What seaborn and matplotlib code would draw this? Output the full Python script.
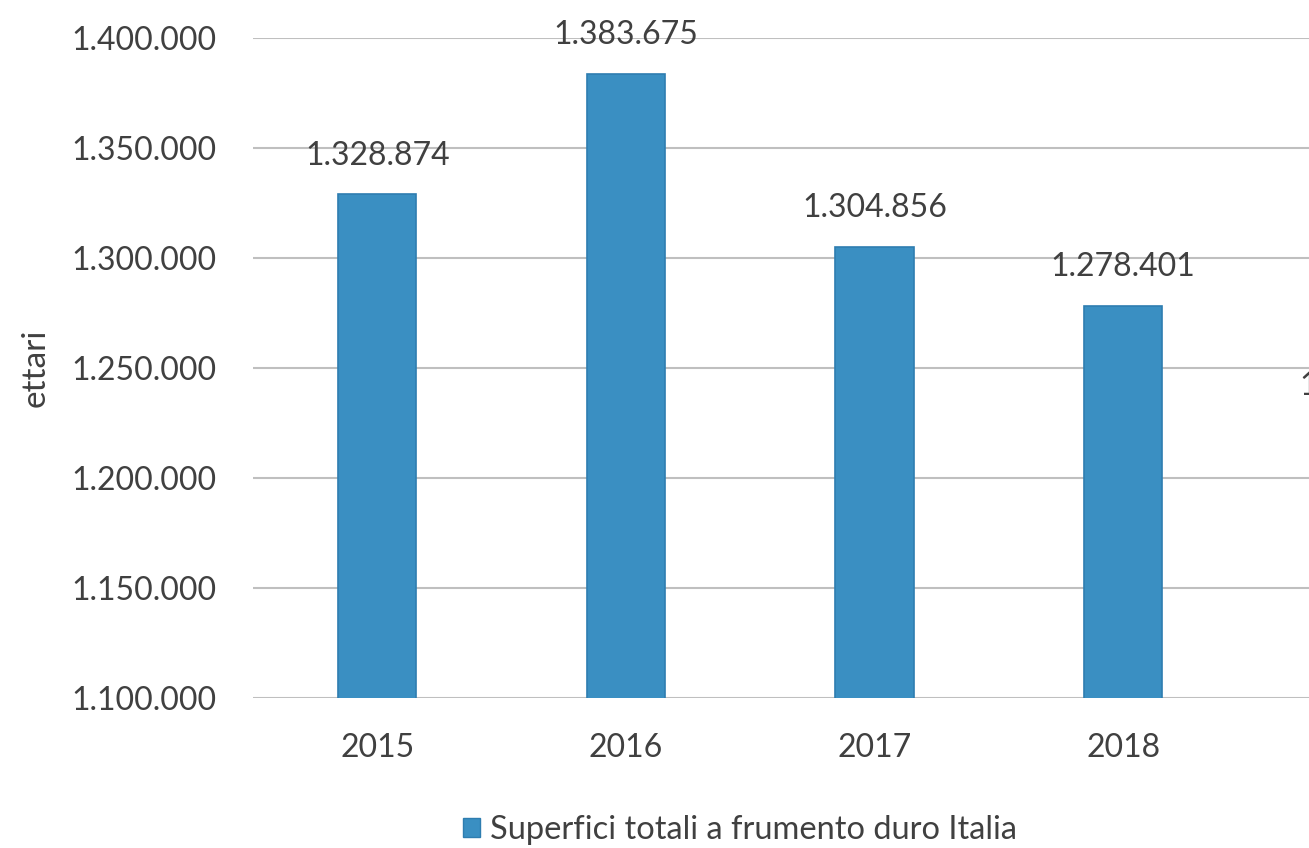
import pandas as pd
import seaborn as sns
import matplotlib.pyplot as plt
from matplotlib.patches import Patch

# dati: superfici a frumento duro in Italia (ettari)
anni = ["2015", "2016", "2017", "2018", "2019"]
ettari = [1328874, 1383675, 1304856, 1278401, 1224000]  # 2019 stimato, tagliato nel riferimento
y_ticks = [1100000, 1150000, 1200000, 1250000, 1300000, 1350000, 1400000]
serie = "Superfici totali a frumento duro Italia"

df = pd.DataFrame({"anno": anni, "ettari": ettari})

def fmt(v):
    return f"{v:,.0f}".replace(",", ".")

sns.set_theme(style="white")
plt.rcParams["font.family"] = ["Lato", "DejaVu Sans"]
testo = "#404040"
fs = 23

W, H = 1309, 848
fig = plt.figure(figsize=(W / 100, H / 100), dpi=100)
# l'asse prosegue oltre il bordo destro (il grafico originale e' ritagliato)
ax = fig.add_axes([253 / W, 1 - 698 / H, 1243 / W, 660 / H])

sns.barplot(data=df, x="anno", y="ettari", color="#3a8fc2", width=0.315,
            edgecolor="#2e7db0", linewidth=1.2, saturation=1, ax=ax, zorder=3)

ax.set_ylim(1100000, 1400000)
ax.set_yticks(y_ticks)
ax.set_yticklabels([fmt(v) for v in y_ticks], fontsize=fs, color=testo)
ax.tick_params(axis="y", length=0, pad=26)
ax.tick_params(axis="x", length=0, pad=25, labelsize=fs, labelcolor=testo)
ax.grid(axis="y", color="#bfbfbf", linewidth=1.5, zorder=0)
for s in ax.spines.values():
    s.set_visible(False)

ax.set_xlabel("")
ax.set_ylabel("ettari", fontsize=24, color=testo)
ax.yaxis.set_label_coords(-0.163, 0.5)

# etichette dei valori sopra le barre
for i, v in enumerate(ettari):
    ax.annotate(fmt(v), (i, v), xytext=(0, 28), textcoords="offset points",
                ha="center", va="center", fontsize=fs, color=testo, clip_on=False)

handle = Patch(facecolor="#3a8fc2", edgecolor="#2e7db0")
fig.legend([handle], [serie], loc="center", bbox_to_anchor=(740 / W, 1 - 830 / H),
           frameon=False, fontsize=fs + 0.5, labelcolor=testo, handlelength=0.5,
           handleheight=0.5, handletextpad=0.3)

fig.savefig("out.png", dpi=100)
